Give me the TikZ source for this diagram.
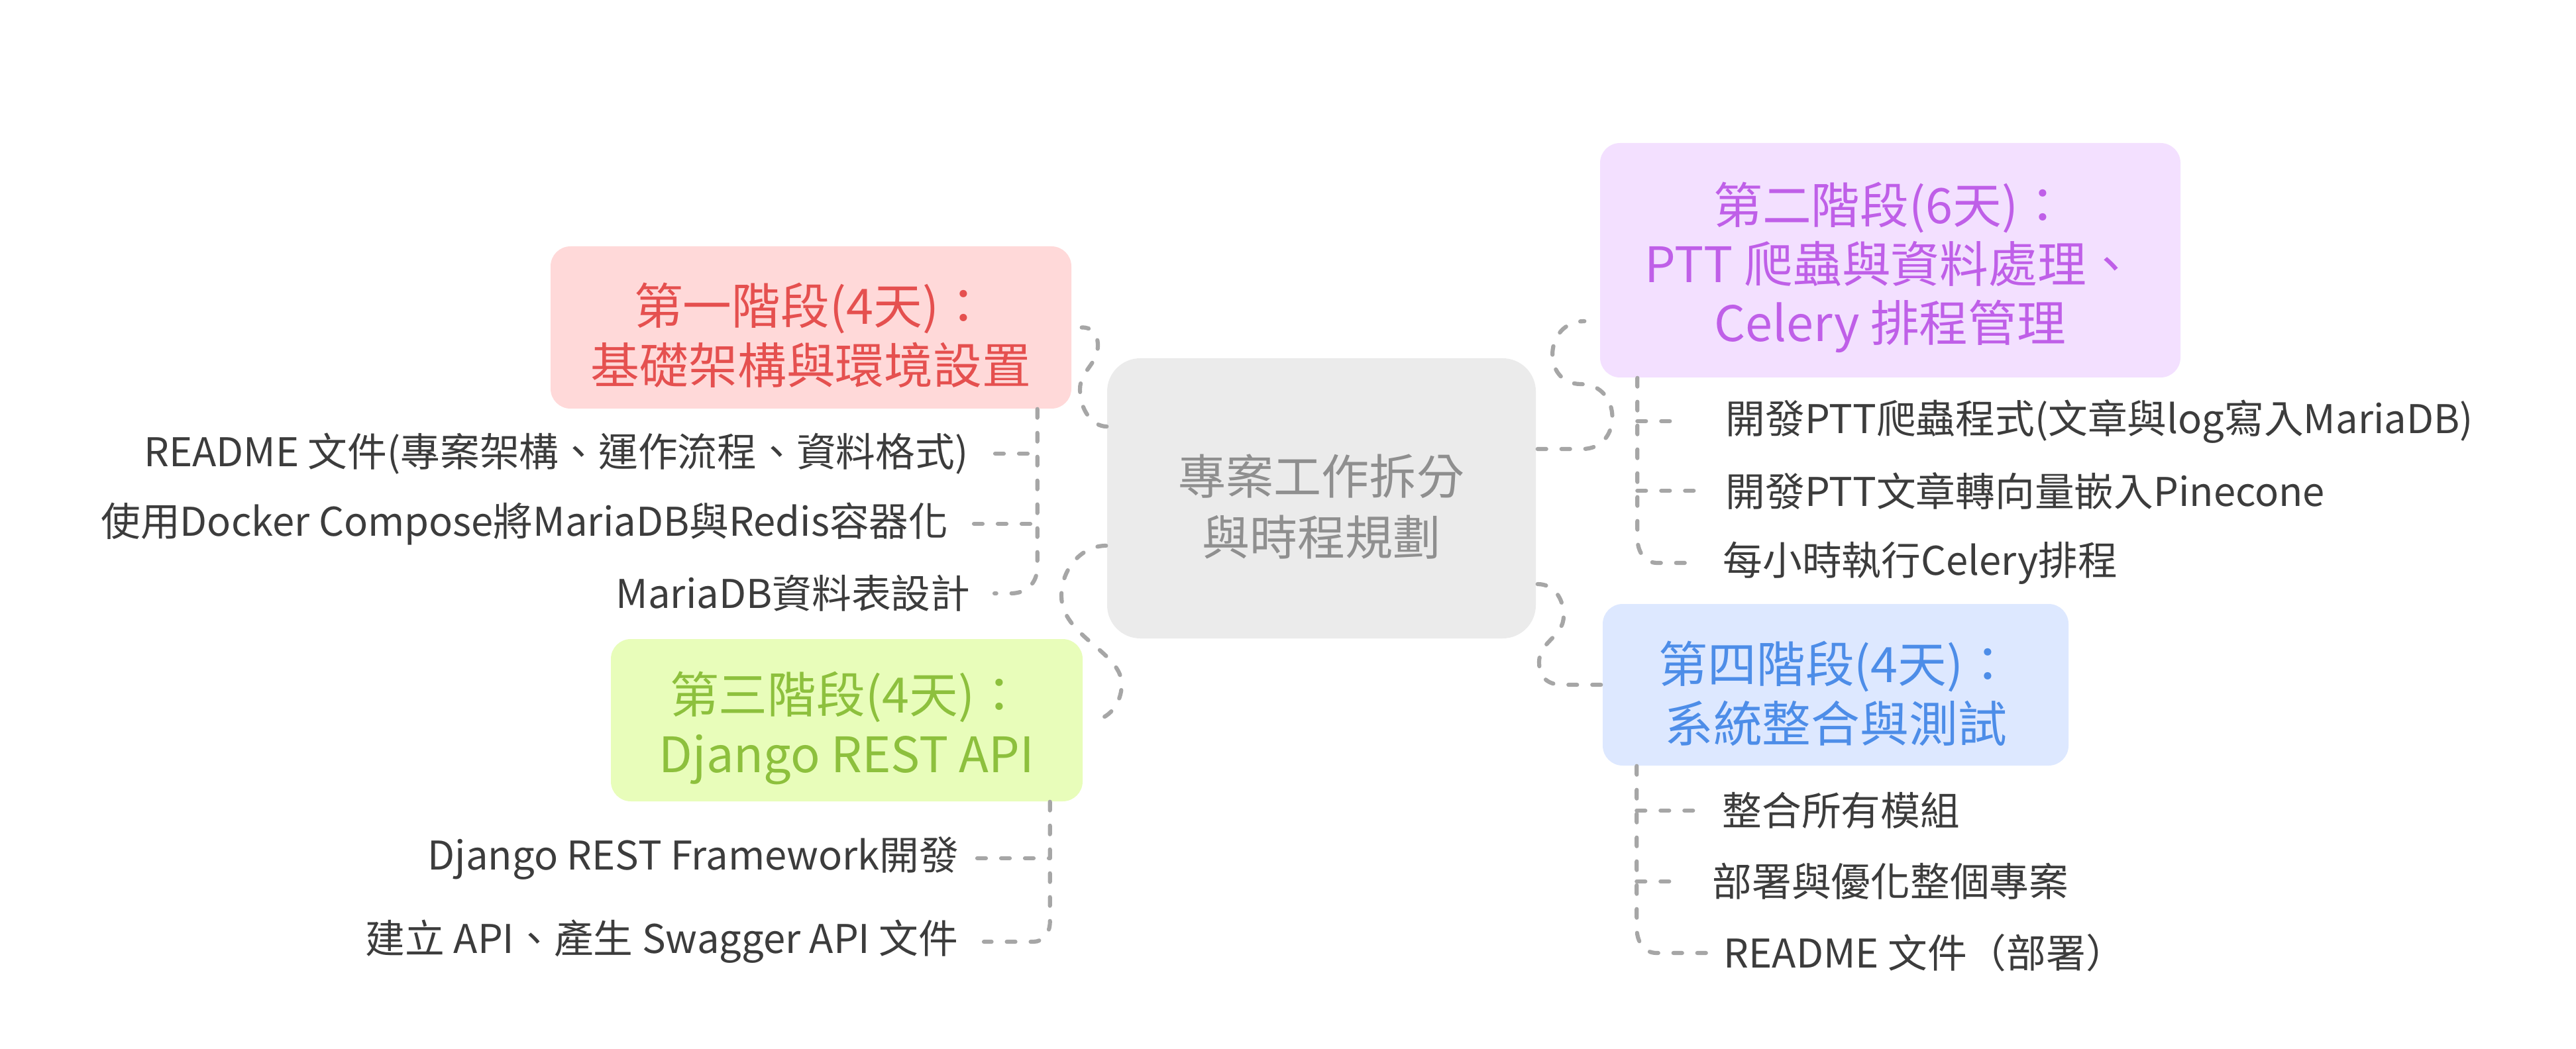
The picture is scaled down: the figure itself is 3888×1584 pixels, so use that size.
\documentclass[tikz,border=0pt]{standalone}
\usepackage{fontspec}
\setmainfont{Noto Sans CJK TC}
\usetikzlibrary{calc}
\definecolor{pinkfill}{HTML}{FFD9D9}
\definecolor{pinktext}{HTML}{E5504F}
\definecolor{purplefill}{HTML}{F3E0FF}
\definecolor{purpletext}{HTML}{BF5FE8}
\definecolor{greenfill}{HTML}{E8FDBA}
\definecolor{greentext}{HTML}{8DC03D}
\definecolor{bluefill}{HTML}{DDE8FF}
\definecolor{bluetext}{HTML}{4D8DE8}
\definecolor{cfill}{HTML}{EBEBEB}
\definecolor{ctext}{HTML}{8F8F8F}
\definecolor{itemc}{HTML}{3C3C3C}
\definecolor{connc}{HTML}{A6A6A6}
\begin{document}
\begin{tikzpicture}[x=0.1mm,y=-0.1mm,
  phasebox/.style={rectangle, rounded corners=3mm, inner sep=0pt, draw=none},
  centerbox/.style={rectangle, rounded corners=5mm, inner sep=0pt, draw=none, fill=cfill},
  title/.style={align=center, inner sep=0pt, font=\fontsize{21pt}{25.6pt}\selectfont},
  item/.style={inner sep=0pt, text=itemc, font=\fontsize{17pt}{20pt}\selectfont},
  conn/.style={draw=connc, line width=0.62mm, line cap=round, dash pattern=on 1.3mm off 2.3mm}]
\useasboundingbox (0,0) rectangle (3888,1584);

% central node
\node[centerbox, minimum width=64.7mm, minimum height=42.3mm] (c) at (1994.5,752.5) {};
\node[title, text=ctext, font=\fontsize{20.5pt}{26pt}\selectfont] (ct) at (1994.5,765) {專案工作拆分\\與時程規劃};

% phase boxes
\node[phasebox, fill=pinkfill, minimum width=78.6mm, minimum height=24.5mm] (p1) at (1224,494.5) {};
\node[title, text=pinktext] (p1t) at (1224,506) {第一階段(4天)：\\基礎架構與環境設置};

\node[phasebox, fill=purplefill, minimum width=87.6mm, minimum height=35.4mm] (p2) at (2853,393) {};
\node[title, text=purpletext, font=\fontsize{21pt}{25.3pt}\selectfont] (p2t) at (2853,404) {第二階段(6天)：\\PTT 爬蟲與資料處理、\\Celery 排程管理};

\node[phasebox, fill=greenfill, minimum width=71.2mm, minimum height=24.5mm] (p3) at (1278,1087.5) {};
\node[title, text=greentext] (p3t) at (1278,1099) {第三階段(4天)：\\Django REST API};

\node[phasebox, fill=bluefill, minimum width=70.3mm, minimum height=24.4mm] (p4) at (2770.5,1034) {};
\node[title, text=bluetext] (p4t) at (2770.5,1047) {第四階段(4天)：\\系統整合與測試};

% items
\node[item, anchor=east] (i1) at (1462,685) {README 文件(專案架構、運作流程、資料格式)};
\node[item, anchor=east] (i2) at (1432,791) {使用Docker Compose將MariaDB與Redis容器化};
\node[item, anchor=east] (i3) at (1465,896) {MariaDB資料表設計};
\node[item, anchor=east] (i4) at (1448,1296) {Django REST Framework開發};
\node[item, anchor=east] (i5) at (1447,1422) {建立 API、產生 Swagger API 文件};
\node[item, anchor=west] (i6) at (2604,636) {開發PTT爬蟲程式(文章與log寫入MariaDB)};
\node[item, anchor=west] (i7) at (2604,741) {開發PTT文章轉向量嵌入Pinecone};
\node[item, anchor=west] (i8) at (2600,850) {每小時執行Celery排程};
\node[item, anchor=west] (i9) at (2599,1224) {整合所有模組};
\node[item, anchor=west] (i10) at (2584,1331) {部署與優化整個專案};
\node[item, anchor=west] (i11) at (2601,1439) {README 文件（部署）};

% central -> phases
\draw[conn] ($(c.west)+(0,-108.5)$) .. controls (1648,644) and (1630,618) .. (1630,588)
  .. controls (1630,560) and (1657,550) .. (1657,522)
  .. controls (1657,504) and (1648,494) .. ($(p1.east)+(15,0)$);
\draw[conn] ($(c.east)+(2,-74.5)$) -- (2388,678) .. controls (2450,678) and (2448,580) .. (2386,580)
  .. controls (2326,580) and (2330,485) .. ($(p2.west)+(-23,92)$);
\draw[conn] ($(c.west)+(-1,71.5)$) .. controls (1633,824) and (1602,858) .. (1602,900)
  .. controls (1602,960) and (1693,985) .. (1693,1033)
  .. controls (1693,1063) and (1672,1088) .. ($(p3.east)+(13,0)$);
\draw[conn] ($(c.east)+(2,129.5)$) .. controls (2345,882) and (2360,903) .. (2360,930)
  .. controls (2360,962) and (2323,968) .. (2323,1000)
  .. controls (2323,1022) and (2335,1034) .. (2358,1034) -- ($(p4.west)+(-2,0)$);

% phase 1 children
\coordinate (v1) at ($(p1.south east)+(-52,0)$);
\draw[conn] ($(i1.east)+(40,0)$) -- (v1 |- i1.east);
\draw[conn] ($(i2.east)+(38,0)$) -- (v1 |- i2.east);
\draw[conn] (v1) -- ($(v1 |- i3.east)+(0,-40)$) .. controls +(0,24) and +(24,0) .. ($(v1 |- i3.east)+(-40,0)$) -- ($(i3.east)+(36,0)$);

% phase 3 children
\coordinate (v3) at ($(p3.south east)+(-50,0)$);
\draw[conn] ($(i4.east)+(27,0)$) -- (v3 |- i4.east);
\draw[conn] (v3) -- ($(v3 |- i5.east)+(0,-30)$) .. controls +(0,18) and +(14,0) .. ($(v3 |- i5.east)+(-25,0)$) -- ($(i5.east)+(38,0)$);

% phase 2 children
\coordinate (v2) at ($(p2.south west)+(57,0)$);
\draw[conn] (v2 |- i6.west) -- ($(i6.west)+(-66,0)$);
\draw[conn] (v2 |- i7.west) -- ($(i7.west)+(-29,0)$);
\draw[conn] (v2) -- ($(v2 |- i8.west)+(0,-38)$) .. controls +(0,20) and +(-20,0) .. ($(v2 |- i8.west)+(30,0)$) -- ($(i8.west)+(-45,0)$);

% phase 4 children
\coordinate (v4) at ($(p4.south west)+(52,0)$);
\draw[conn] (v4 |- i9.west) -- ($(i9.west)+(-41,0)$);
\draw[conn] (v4 |- i10.west) -- ($(i10.west)+(-45,0)$);
\draw[conn] (v4) -- ($(v4 |- i11.west)+(0,-38)$) .. controls +(0,20) and +(-20,0) .. ($(v4 |- i11.west)+(30,0)$) -- ($(i11.west)+(-24,0)$);
\end{tikzpicture}
\end{document}
